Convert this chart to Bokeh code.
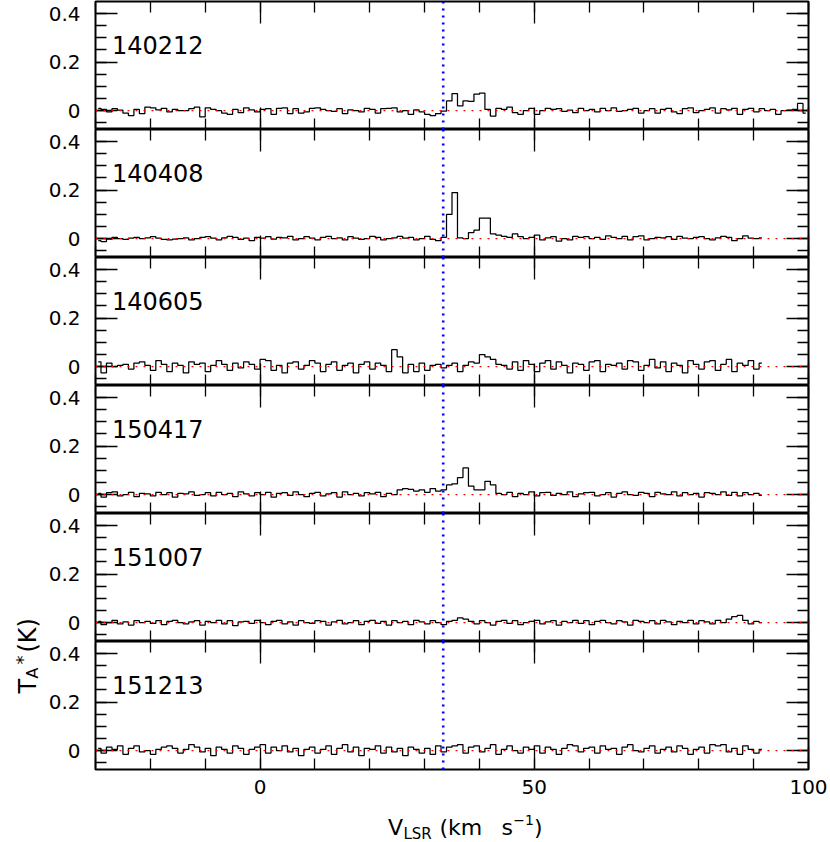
import numpy as np
from bokeh.plotting import figure
from bokeh.models import (Range1d, LinearAxis, SingleIntervalTicker, Span, Label,
                          CustomJSTickFormatter, CustomLabelingPolicy, ColumnDataSource)
from bokeh.layouts import column, row
from bokeh.embed import file_html
from bokeh.resources import INLINE

# ---------------- data (antenna temperature in mK, 1 km/s channels) ----------------
dates = ["140212", "140408", "140605", "150417", "151007", "151213"]
chan_start = -29.5      # km/s, centre of first channel
chan_width = 1.0        # km/s
v_line = 33.4           # km/s, systemic velocity marker

t_140212 = [10, 5, -5, 8, 2, -10, -20, 5, -12, 15,
            12, 3, 10, -5, 5, 0, 0, 8, 15, -25,
            12, 5, 0, -10, -15, 5, -8, 12, 3, -5,
            5, 8, -15, 10, 12, -12, 8, -10, -5, 10,
            12, 5, 0, -3, 8, -12, 3, 0, -5, 10,
            5, -10, 8, 10, 12, -5, 0, -15, 3, -5,
            -15, -20, -12, -2, 40, 70, 20, 40, 38, 68,
            72, 5, -22, 10, 5, 15, -8, -15, 0, 10,
            -15, 0, 10, 5, 8, -3, 2, -8, 10, 0,
            5, -5, 10, 0, 12, -3, 0, 5, 10, -10,
            0, 8, -10, 5, 10, -5, -12, 8, 12, -8,
            0, 5, 12, -10, 8, 3, 10, -15, 5, 10,
            -5, 8, 0, 5, -15, 0, 2, 5, 30, -10]

t_140408 = [-8, -12, -2, 5, 0, -3, 2, 5, 0, 3,
            8, 2, -3, -5, -2, 0, 3, -5, 0, 5,
            8, 2, -5, 3, 10, 5, -3, 2, -8, 5,
            2, 8, -2, 5, 3, 10, -5, 0, 8, 2,
            -5, 5, 10, 0, 3, -5, 8, 2, -3, 0,
            10, 5, -5, 0, 3, 10, 2, 5, -5, 0,
            10, -3, -8, 5, 100, 190, 3, 0, 25, 35,
            85, 85, 20, 15, 10, 5, 20, 8, 0, 5,
            15, -5, 3, 8, -10, 0, -5, 10, 5, 8,
            0, 5, -3, 12, 5, 0, 10, -5, 8, 12,
            -5, 0, 5, 3, 8, -3, 10, 2, 0, 5,
            8, 0, -5, 3, 10, 5, -8, 0, 12, 2,
            0, 3]

t_140605 = [20, -25, 15, 0, 5, 10, -10, 15, 20, 5,
            -15, 25, 10, -20, 15, 5, -25, 20, 10, 15,
            -20, 5, 25, 10, -15, 15, -5, 20, 10, -10,
            30, 25, -15, 5, -25, 15, 20, -10, 5, 25,
            15, -20, 10, 20, -15, 5, 15, -25, 10, 20,
            -10, 15, 5, -20, 70, 40, -25, 10, -20, 15,
            -15, 5, 10, -5, 5, 15, -20, 5, 20, 15,
            50, 40, 30, 10, 5, -10, 20, -15, 25, 10,
            -20, 15, 25, -10, 20, 5, -25, 15, 10, -15,
            20, 25, -20, 10, 5, 15, -10, 25, 20, -15,
            5, 30, -5, 20, -20, 15, 5, -25, 25, 10,
            -10, 20, 25, -15, 10, 30, -20, 15, 5, 25,
            -10, 15]

t_150417 = [5, -10, 8, 12, -5, 0, 10, -8, 5, 3,
            -5, 10, 0, 8, -10, 5, 3, 12, -3, 0,
            8, -5, 10, 0, 5, -8, 12, 3, -5, 8,
            0, 10, -10, 5, 8, -3, 12, 0, -8, 5,
            10, -5, 3, 8, -10, 12, 0, 5, -5, 8,
            3, 10, -8, 5, 0, 20, 25, 22, 15, 20,
            10, 25, 15, 20, 40, 45, 70, 110, 35, 20,
            20, 55, 40, 5, 0, 10, -8, 5, 0, 12,
            -5, 8, 10, -3, 5, 0, 12, -8, 3, 8,
            10, -5, 0, 8, -10, 5, 12, 0, -3, 10,
            5, -8, 10, 3, 0, 12, -5, 8, 0, 5,
            -10, 8, 5, 0, 12, -3, 10, -5, 8, 0,
            5, -3]

t_151007 = [5, -8, 0, 10, -5, 3, -10, 8, 0, 5,
            -3, 8, -8, 5, 10, 0, -5, 3, 8, -10,
            5, 0, 10, -5, 8, -12, 3, 5, -3, 10,
            0, -8, 5, 10, -5, 3, -10, 8, 0, -3,
            8, 5, -10, 3, 10, -5, 0, 8, -8, 5,
            10, -3, 5, -10, 8, 0, 5, -8, 10, 3,
            -5, 8, 0, -8, 5, 10, 20, 15, 5, -5,
            8, 0, -10, 5, 10, -3, 8, -8, 0, 5,
            10, -5, 3, 8, -10, 5, 0, 10, -3, 8,
            -8, 5, 10, 0, -5, 8, 3, -10, 10, 5,
            0, 8, -5, 10, 3, -8, 5, 0, 10, -5,
            8, 3, -5, 10, 0, 15, 25, 30, 10, -5,
            5, 0]

t_151213 = [10, -10, 15, 5, 20, -15, 10, 20, -5, 0,
            -15, 5, 15, 20, 10, -10, 5, 25, 15, -5,
            10, -20, 15, 5, -10, 20, 10, -15, 5, 15,
            25, -10, 15, 0, 20, -5, 10, -20, 5, 15,
            -10, 5, 20, -15, 10, 25, -5, 15, -20, 10,
            5, 20, -10, 15, -5, 10, -20, 15, 5, -10,
            10, -15, 20, -5, 15, 20, 25, -10, 15, 20,
            -5, 10, 25, -15, 5, 20, 0, -10, 15, 5,
            20, -10, 15, 5, -15, 10, 25, 20, -5, 10,
            15, -10, 20, 5, 10, -15, 15, 25, 0, -5,
            10, 20, -10, 5, 15, -5, 20, 10, -15, 5,
            15, -10, 25, 20, 25, -5, 10, -15, 20, 5,
            -10, 5]

spectra = [t_140212, t_140408, t_140605, t_150417, t_151007, t_151213]

# ---------------- styling ----------------
FONT = "DejaVu Sans"
TICK_FS = "20px"
W, H = 830, 842
YLAB_W = 38          # horizontal space given to the y title strip
YLAB_CANVAS = 66     # canvas width of the y title strip (overlaps panel margin)
BOTTOM_BORDER = 35
x_range = Range1d(-30, 100)
y_lo, y_hi = -0.0774, 0.4494

y_fmt_code = "return Number(tick.toFixed(2)).toString()"
hide_code = """
try { for (const i of indices) { indices.unset(i) } }
catch (e) { for (const i of indices) { indices.set(i, false) } }
return indices
"""


def style_axis(ax, show_labels):
    ax.major_tick_in = 22
    ax.major_tick_out = 0
    ax.minor_tick_in = 11
    ax.minor_tick_out = 0
    ax.major_tick_line_color = "black"
    ax.minor_tick_line_color = "black"
    ax.major_tick_line_width = 1.3
    ax.minor_tick_line_width = 1.3
    ax.axis_line_color = None
    ax.axis_label = None
    if show_labels:
        ax.major_label_text_font = FONT
        ax.major_label_text_font_size = TICK_FS
        ax.major_label_text_color = "black"
    else:
        ax.major_label_text_font_size = "0px"
        ax.major_label_standoff = 0
        ax.major_label_policy = CustomLabelingPolicy(code=hide_code)


figs = []
n = len(dates)
for i, (name, vals) in enumerate(zip(dates, spectra)):
    last = (i == n - 1)
    p = figure(frame_width=713, frame_height=128,
               x_range=x_range, y_range=Range1d(y_lo, y_hi),
               output_backend="svg", toolbar_location=None,
               x_axis_location=None, y_axis_location=None,
               min_border_left=95 - YLAB_W, min_border_right=22,
               min_border_top=1 if i == 0 else 0,
               min_border_bottom=BOTTOM_BORDER if last else 0,
               background_fill_color="white", border_fill_color="white",
               border_fill_alpha=0)
    p.grid.visible = False
    p.outline_line_color = "black"
    p.outline_line_width = 2

    # axes with inward ticks on all four sides
    for loc in ["below", "above"]:
        ax = LinearAxis(ticker=SingleIntervalTicker(interval=50, num_minor_ticks=5))
        style_axis(ax, show_labels=(last and loc == "below"))
        if last and loc == "below":
            ax.major_label_standoff = 10
        p.add_layout(ax, loc)
    for loc in ["left", "right"]:
        ax = LinearAxis(ticker=SingleIntervalTicker(interval=0.2, num_minor_ticks=4),
                        formatter=CustomJSTickFormatter(code=y_fmt_code))
        style_axis(ax, show_labels=(loc == "left"))
        if loc == "left":
            ax.major_label_standoff = 15
        p.add_layout(ax, loc)

    # reference lines
    p.add_layout(Span(location=0, dimension="width", line_color="red",
                      line_dash="2 6", line_width=1.2))
    p.add_layout(Span(location=v_line, dimension="height", line_color="blue",
                      line_dash="2 5", line_width=2.6))

    # spectrum
    v = chan_start + chan_width * np.arange(len(vals))
    t = np.array(vals) / 1000.0
    src = ColumnDataSource(dict(v=v, t=t))
    p.step("v", "t", source=src, mode="center", line_color="black", line_width=1.25)

    # panel name
    p.add_layout(Label(x=-27, y=0.27, text=name, text_font=FONT,
                       text_font_size="24px", text_color="black",
                       text_baseline="alphabetic"))
    figs.append(p)

# ---------------- axis-title strips (page pixel coordinates) ----------------
used_h = 1 + 6 * 128 + BOTTOM_BORDER
xlab = figure(width=W - YLAB_W, height=H - used_h, min_border=0,
              x_range=Range1d(YLAB_W, W), y_range=Range1d(H, used_h),
              x_axis_location=None, y_axis_location=None,
              output_backend="svg", toolbar_location=None,
              background_fill_color="white", border_fill_color="white")
xlab.grid.visible = False
xlab.outline_line_color = None
base = dict(text_font=FONT, text_color="black", text_baseline="alphabetic")
xlab.add_layout(Label(x=363, y=827, text="V", text_font_size="22px", **base))
xlab.add_layout(Label(x=380, y=833, text="LSR", text_font_size="15px", **base))
xlab.add_layout(Label(x=420, y=827, text="(km", text_font_size="22px", **base))
xlab.add_layout(Label(x=489, y=827, text="s", text_font_size="22px", **base))
xlab.add_layout(Label(x=502, y=819, text="\u22121", text_font_size="14px", **base))
xlab.add_layout(Label(x=525, y=827, text=")", text_font_size="22px", **base))

ylab = figure(width=YLAB_CANVAS, height=H, min_border=0,
              x_range=Range1d(0, YLAB_CANVAS), y_range=Range1d(H, 0),
              x_axis_location=None, y_axis_location=None,
              output_backend="svg", toolbar_location=None,
              background_fill_alpha=0, border_fill_alpha=0,
              margin=(0, YLAB_W - YLAB_CANVAS, 0, 0))
ylab.grid.visible = False
ylab.outline_line_color = None
rot = dict(base, angle=np.pi / 2)
ylab.add_layout(Label(x=27, y=693, text="T", text_font_size="24px", **rot))
ylab.add_layout(Label(x=32, y=678, text="A", text_font_size="16px", **rot))
ylab.add_layout(Label(x=22, y=664, text="*", text_font_size="18px", **rot))
ylab.add_layout(Label(x=27, y=652, text="(K)", text_font_size="24px", **rot))

layout = row(ylab, column(*figs, xlab, spacing=0), spacing=0)
open("out.html", "w").write(file_html(layout, INLINE))
